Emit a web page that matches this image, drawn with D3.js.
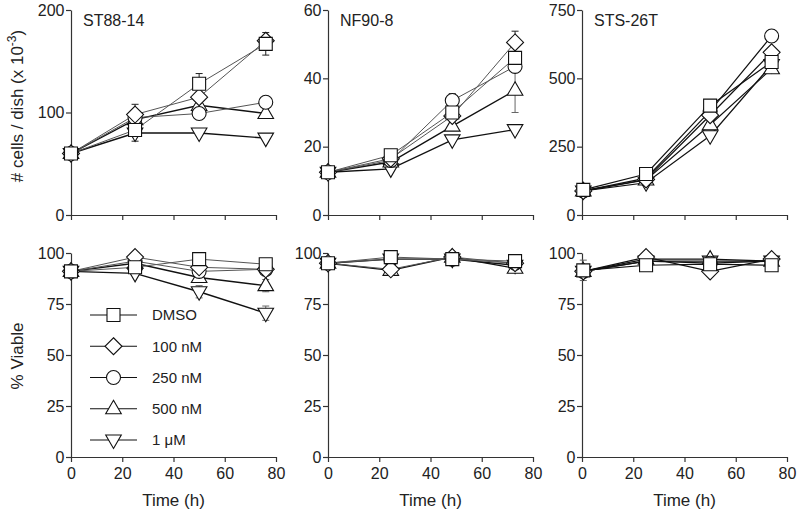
<!DOCTYPE html>
<html><head><meta charset="utf-8">
<script src="https://cdn.jsdelivr.net/npm/d3@7"></script>
<style>body{margin:0;background:#fff} svg{display:block;font-family:"Liberation Sans",Arial,Helvetica,sans-serif}</style>
</head><body><svg id="c" width="800" height="514"></svg>
<script>
// ---------- DATA ----------
const seriesNames = ["DMSO", "100 nM", "250 nM", "500 nM", "1 \u03BCM"];
const cellLines = ["ST88-14", "NF90-8", "STS-26T"];
const timeTicks = [0, 20, 40, 60, 80];

const timesST = [0, 25, 50, 76];
const timesNF = [0, 24.5, 48.5, 73];
const timesSTS = [0.5, 25, 50, 74];

const cellsTicksST = [0, 100, 200];
const cellsTicksNF = [0, 20, 40, 60];
const cellsTicksSTS = [0, 250, 500, 750];
const viableTicks = [0, 25, 50, 75, 100];

// # cells / dish (x 10^-3)
const cellsST_DMSO = [60, 83, 128, 167];
const cellsST_100 = [60, 98, 115, 170];
const cellsST_250 = [60, 95, 99, 110];
const cellsST_500 = [60, 93, 107, 99];
const cellsST_1u  = [60, 80, 80, 75];
const cellsSTErr_DMSO = [0, 11, 10, 11];
const cellsSTErr_100  = [0, 10, 0, 0];

const cellsNF_DMSO = [12.5, 17.5, 30, 46];
const cellsNF_100 = [12.5, 16.5, 29, 50.5];
const cellsNF_250 = [12.5, 16, 33.5, 43.5];
const cellsNF_500 = [12.5, 15.5, 26, 36.5];
const cellsNF_1u  = [12.5, 13.5, 22, 25];
const cellsNFErr_DMSO = [0, 1.5, 0, 0];
const cellsNFErr_100  = [0, 0, 0, 3.3];
const cellsNFErr_250  = [0, 0, 2, 0];
const cellsNFErr_500  = [0, 0, 0, 6.5];

const cellsSTS_DMSO = [92, 150, 400, 560];
const cellsSTS_100 = [88, 130, 365, 595];
const cellsSTS_250 = [88, 135, 380, 655];
const cellsSTS_500 = [88, 128, 330, 535];
const cellsSTS_1u  = [88, 118, 290, 550];

// % Viable
const viaST_DMSO = [91, 93, 97, 94.5];
const viaST_100 = [91, 98, 93, 92];
const viaST_250 = [91, 96, 91, 92];
const viaST_500 = [91, 95, 88, 84];
const viaST_1u  = [91, 90, 81, 70.5];
const viaSTErr_500 = [0, 0, 0, 3];
const viaSTErr_1u  = [0, 0, 3, 3.5];

const viaNF_DMSO = [95, 98, 97, 96];
const viaNF_100 = [95, 92, 98, 95];
const viaNF_250 = [95, 97, 97, 95];
const viaNF_500 = [95, 91.5, 98, 92.5];
const viaNF_1u  = [95, 97, 97, 94];

const viaSTS_DMSO = [91.5, 94, 94.5, 94];
const viaSTS_100 = [91, 98, 91, 97];
const viaSTS_250 = [91, 96, 95, 96];
const viaSTS_500 = [91, 97, 97, 96];
const viaSTS_1u  = [91, 96, 96, 96];
const viaSTSErr_DMSO = [5, 0, 0, 0];

const Z = [0, 0, 0, 0];

// ---------- PANELS ----------
const colX = [[71, 276], [328, 533], [582, 787]];
const rowY = [[215, 10], [457, 253]];

const panels = [
  {col:0,row:0,times:timesST,domain:[0,200],ticks:cellsTicksST,title:cellLines[0],
   vals:[cellsST_DMSO,cellsST_100,cellsST_250,cellsST_500,cellsST_1u],
   errs:[cellsSTErr_DMSO,cellsSTErr_100,Z,Z,Z]},
  {col:1,row:0,times:timesNF,domain:[0,60],ticks:cellsTicksNF,title:cellLines[1],
   vals:[cellsNF_DMSO,cellsNF_100,cellsNF_250,cellsNF_500,cellsNF_1u],
   errs:[cellsNFErr_DMSO,cellsNFErr_100,cellsNFErr_250,cellsNFErr_500,Z]},
  {col:2,row:0,times:timesSTS,domain:[0,750],ticks:cellsTicksSTS,title:cellLines[2],dark:true,
   vals:[cellsSTS_DMSO,cellsSTS_100,cellsSTS_250,cellsSTS_500,cellsSTS_1u],
   errs:[Z,Z,Z,Z,Z]},
  {col:0,row:1,times:timesST,domain:[0,100],ticks:viableTicks,
   vals:[viaST_DMSO,viaST_100,viaST_250,viaST_500,viaST_1u],
   errs:[Z,Z,Z,viaSTErr_500,viaSTErr_1u]},
  {col:1,row:1,times:timesNF,domain:[0,100],ticks:viableTicks,
   vals:[viaNF_DMSO,viaNF_100,viaNF_250,viaNF_500,viaNF_1u],
   errs:[Z,Z,Z,Z,Z]},
  {col:2,row:1,times:timesSTS,domain:[0,100],ticks:viableTicks,dark:true,
   vals:[viaSTS_DMSO,viaSTS_100,viaSTS_250,viaSTS_500,viaSTS_1u],
   errs:[viaSTSErr_DMSO,Z,Z,Z,Z]}
];

// styles per series
const lineStyle = [
  {c:"#555", w:1}, {c:"#555", w:1}, {c:"#555", w:1}, {c:"#111", w:1.4}, {c:"#111", w:1.4}
];
const shapes = ["square", "diamond", "circle", "up", "down"];
function shapePath(s) {
  switch (s) {
    case "square": return "M-6.5,-6.5H6.5V6.5H-6.5Z";
    case "diamond": return "M0,-8.5L8.5,0L0,8.5L-8.5,0Z";
    case "circle": return "M7,0A7,7 0 1,1 -7,0A7,7 0 1,1 7,0Z";
    case "up": return "M0,-8.5L7.8,5L-7.8,5Z";
    case "down": return "M0,8.5L7.8,-5L-7.8,-5Z";
  }
}

const svg = d3.select("#c");
const FS = 15;
const TFS = 16;

panels.forEach(p => {
  const x = d3.scaleLinear().domain([0, 80]).range(colX[p.col]);
  const y = d3.scaleLinear().domain(p.domain).range(rowY[p.row]);
  const g = svg.append("g");

  const ya = g.append("g").attr("transform", `translate(${colX[p.col][0]},0)`)
    .call(d3.axisLeft(y).tickValues(p.ticks).tickSize(5).tickPadding(1.5).tickSizeOuter(0));
  const xa = g.append("g").attr("transform", `translate(0,${rowY[p.row][0]})`)
    .call(d3.axisBottom(x).tickValues(timeTicks).tickSize(5).tickPadding(6).tickSizeOuter(0)
      .tickFormat(p.row === 0 ? () => "" : d3.format("d")));
  [ya, xa].forEach(a => {
    a.select(".domain").attr("stroke", "#333").attr("stroke-width", 1.2);
    a.selectAll(".tick line").attr("stroke", "#333").attr("stroke-width", 1.2);
    a.selectAll("text").attr("font-size", TFS).attr("fill", "#222")
      .attr("font-family", "'Liberation Sans',Arial,sans-serif");
  });

  if (p.title) {
    g.append("text").attr("x", colX[p.col][0] + 12).attr("y", rowY[p.row][1] + 16)
      .attr("font-size", 16).attr("fill", "#222").text(p.title);
  }

  const line = d3.line().x((d, i) => x(p.times[i])).y(d => y(d));
  const order = [4, 3, 2, 1, 0];
  order.forEach(si => {
    const st = p.dark ? {c:"#111", w:1.2} : lineStyle[si];
    g.append("path").datum(p.vals[si]).attr("d", line)
      .attr("fill", "none").attr("stroke", st.c).attr("stroke-width", st.w);
  });
  order.forEach(si => {
    const st = p.dark ? {c:"#111", w:1.2} : lineStyle[si];
    p.vals[si].forEach((v, i) => {
      const e = p.errs[si][i];
      if (!e) return;
      const cx = x(p.times[i]);
      const eg = g.append("g").attr("stroke", st.c === "#555" ? "#222" : "#666").attr("stroke-width", 1);
      eg.append("line").attr("x1", cx).attr("x2", cx).attr("y1", y(v - e)).attr("y2", y(v + e));
      eg.append("line").attr("x1", cx - 3.5).attr("x2", cx + 3.5).attr("y1", y(v - e)).attr("y2", y(v - e));
      eg.append("line").attr("x1", cx - 3.5).attr("x2", cx + 3.5).attr("y1", y(v + e)).attr("y2", y(v + e));
    });
  });
  order.forEach(si => {
    g.append("g").selectAll("path").data(p.vals[si]).join("path")
      .attr("d", shapePath(shapes[si]))
      .attr("transform", (d, i) => `translate(${x(p.times[i])},${y(d)})`)
      .attr("fill", "#fff").attr("stroke", "#111").attr("stroke-width", 1.1);
  });

  if (p.row === 1) {
    g.append("text").attr("x", (colX[p.col][0] + colX[p.col][1]) / 2).attr("y", 506)
      .attr("text-anchor", "middle").attr("font-size", 17).attr("fill", "#222").text("Time (h)");
  }
});

// Y axis titles
const t1 = svg.append("text").attr("transform", "translate(23,106) rotate(-90)")
  .attr("text-anchor", "middle").attr("font-size", 17).attr("fill", "#222");
t1.append("tspan").text("# cells / dish (x 10");
t1.append("tspan").attr("font-size", 12).attr("dy", -7).text("-3");
t1.append("tspan").attr("dy", 7).text(")");
svg.append("text").attr("transform", "translate(23,356) rotate(-90)")
  .attr("text-anchor", "middle").attr("font-size", 17).attr("fill", "#222").text("% Viable");

// Legend
const legY = d3.scaleLinear().domain([0, 4]).range([315, 440]);
seriesNames.forEach((name, i) => {
  const lg = svg.append("g").attr("transform", `translate(0,${legY(i)})`);
  lg.append("line").attr("x1", 90).attr("x2", 137).attr("stroke", "#111").attr("stroke-width", 1.2);
  lg.append("path").attr("d", shapePath(shapes[i])).attr("transform", "translate(113.5,0)")
    .attr("fill", "#fff").attr("stroke", "#111").attr("stroke-width", 1.1);
  lg.append("text").attr("x", 152).attr("dy", "0.36em").attr("font-size", FS).attr("fill", "#222").text(name);
});
</script></body></html>
